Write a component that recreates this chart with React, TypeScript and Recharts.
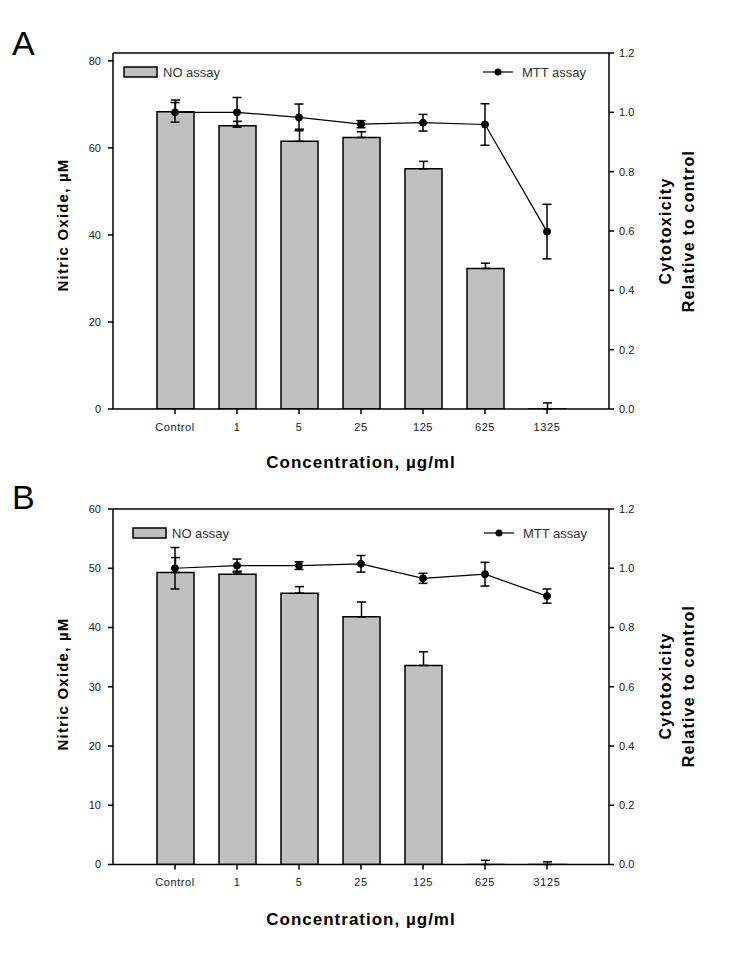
import React from 'react';
import { ComposedChart, Bar, Line, XAxis, YAxis, ErrorBar, ReferenceLine } from 'recharts';

const FONT = '"Liberation Sans", Arial, sans-serif';

const categoriesA = ['Control', '1', '5', '25', '125', '625', '1325'];
const noA = [68.3, 65.1, 61.5, 62.4, 55.2, 32.3, 0];
const noErrA = [2.7, 1.0, 2.8, 1.3, 1.7, 1.2, 1.4];
const mttA = [1.0, 1.0, 0.983, 0.96, 0.965, 0.959, 0.598];
const mttErrA = [0.033, 0.05, 0.045, 0.012, 0.028, 0.07, 0.092];

const categoriesB = ['Control', '1', '5', '25', '125', '625', '3125'];
const noB = [49.3, 49.0, 45.8, 41.8, 33.6, 0, 0];
const noErrB = [2.5, 0.5, 1.1, 2.5, 2.3, 0.7, 0.45];
const mttB = [1.0, 1.009, 1.009, 1.015, 0.966, 0.98, 0.906];
const mttErrB = [0.07, 0.022, 0.013, 0.028, 0.017, 0.04, 0.024];

const leftTicksA = [0, 20, 40, 60, 80];
const leftTicksB = [0, 10, 20, 30, 40, 50, 60];
const rightTicks = [0, 0.2, 0.4, 0.6, 0.8, 1.0, 1.2];
const xTicks = [1, 2, 3, 4, 5, 6, 7];

// a zero-height bar is not drawn by Recharts and drops its error bar,
// so zero values are kept as a negligible positive number (visually 0)
const ZERO = 1e-4;

function buildRows(no: number[], noErr: number[], mtt: number[], mttErr: number[]) {
  return no.map((v, i) => ({
    x: i + 1,
    no: v === 0 ? ZERO : v,
    noErr: [0, noErr[i]],
    mtt: mtt[i],
    mttErr: mttErr[i],
  }));
}

const dataA = buildRows(noA, noErrA, mttA, mttErrA);
const dataB = buildRows(noB, noErrB, mttB, mttErrB);

const tickStyle = { fontSize: 11, fill: '#222', fontFamily: FONT };

type PanelProps = {
  data: any[];
  cats: string[];
  leftMax: number;
  leftTicks: number[];
  height: number;
  bottom: number;
};

function Panel({ data, cats, leftMax, leftTicks, height, bottom }: PanelProps) {
  return (
    <ComposedChart
      width={736}
      height={height}
      data={data}
      margin={{ top: 53, left: 63, right: 77, bottom }}
    >
      <XAxis
        xAxisId="b"
        dataKey="x"
        type="number"
        domain={[0, 8]}
        ticks={xTicks}
        interval={0}
        allowDataOverflow
        tickFormatter={(v: number) => cats[v - 1] ?? ''}
        height={30}
        tickSize={5}
        tickMargin={9}
        stroke="#000"
        strokeWidth={1.5}
        tick={{ ...tickStyle, letterSpacing: 0.6 }}
      />
      <YAxis
        yAxisId="l"
        domain={[0, leftMax]}
        ticks={leftTicks}
        allowDataOverflow
        width={50}
        tickSize={5}
        tickMargin={7}
        stroke="#000"
        strokeWidth={1.5}
        tick={tickStyle}
      />
      <YAxis
        yAxisId="r"
        orientation="right"
        domain={[0, 1.2]}
        ticks={rightTicks}
        allowDataOverflow
        tickFormatter={(v: number) => v.toFixed(1)}
        width={50}
        tickSize={5}
        tickMargin={5}
        stroke="#000"
        strokeWidth={1.5}
        tick={tickStyle}
      />
      <ReferenceLine xAxisId="b" yAxisId="l" y={leftMax} stroke="#000" strokeWidth={1.5} />
      <Bar
        xAxisId="b"
        yAxisId="l"
        dataKey="no"
        barSize={37}
        fill="#c0c0c0"
        stroke="#000"
        strokeWidth={1.5}
        isAnimationActive={false}
      >
        <ErrorBar dataKey="noErr" direction="y" width={4.5} stroke="#000" strokeWidth={1.5} />
      </Bar>
      <Line
        xAxisId="b"
        yAxisId="r"
        dataKey="mtt"
        stroke="#000"
        strokeWidth={1.2}
        dot={{ r: 3.5, fill: '#000', stroke: '#000', strokeWidth: 1 }}
        isAnimationActive={false}
      >
        <ErrorBar dataKey="mttErr" direction="y" width={4.5} stroke="#000" strokeWidth={1.5} />
      </Line>
    </ComposedChart>
  );
}

function Legends({ y, noX, mttX }: { y: number; noX: number; mttX: number }) {
  return (
    <g fontFamily={FONT} fontSize={13} fill="#333">
      <rect x={noX} y={y - 5} width={33} height={10} fill="#c0c0c0" stroke="#000" strokeWidth={1.5} />
      <text x={noX + 39} y={y} dominantBaseline="central">NO assay</text>
      <line x1={mttX} x2={mttX + 30} y1={y} y2={y} stroke="#000" strokeWidth={1.2} />
      <circle cx={mttX + 15} cy={y} r={3.5} fill="#000" />
      <text x={mttX + 39} y={y} dominantBaseline="central">MTT assay</text>
    </g>
  );
}

function Titles({ leftY, rightY, xTitleY, letter, letterY }: { leftY: number; rightY: number; xTitleY: number; letter: string; letterY: number }) {
  return (
    <g fontFamily={FONT} fill="#000">
      <text x={12} y={letterY} fontSize={34}>{letter}</text>
      <text
        x={62}
        y={leftY}
        fontSize={15}
        fontWeight="bold"
        letterSpacing={1.2}
        textAnchor="middle"
        dominantBaseline="central"
        transform={`rotate(-90 62 ${leftY})`}
      >
        Nitric Oxide, µM
      </text>
      <text
        x={665}
        y={rightY}
        fontSize={16}
        fontWeight="bold"
        letterSpacing={1.3}
        textAnchor="middle"
        dominantBaseline="central"
        transform={`rotate(-90 665 ${rightY})`}
      >
        Cytotoxicity
      </text>
      <text
        x={688}
        y={rightY}
        fontSize={16}
        fontWeight="bold"
        letterSpacing={1.2}
        textAnchor="middle"
        dominantBaseline="central"
        transform={`rotate(-90 688 ${rightY})`}
      >
        Relative to control
      </text>
      <text x={361} y={xTitleY} fontSize={17} fontWeight="bold" letterSpacing={1} textAnchor="middle">
        Concentration, µg/ml
      </text>
    </g>
  );
}

export default function App() {
  return (
    <div style={{ position: 'absolute', left: 0, top: 0, width: 736, height: 958, background: '#fff', overflow: 'hidden' }}>
      <div style={{ position: 'absolute', left: 0, top: 0 }}>
        <Panel data={dataA} cats={categoriesA} leftMax={81.8} leftTicks={leftTicksA} height={470} bottom={31} />
      </div>
      <div style={{ position: 'absolute', left: 0, top: 456 }}>
        <Panel data={dataB} cats={categoriesB} leftMax={60} leftTicks={leftTicksB} height={502} bottom={63.5} />
      </div>
      <svg width={736} height={958} style={{ position: 'absolute', left: 0, top: 0, pointerEvents: 'none' }}>
        <Titles leftY={225} rightY={231} xTitleY={468} letter="A" letterY={55} />
        <Titles leftY={684} rightY={686} xTitleY={925} letter="B" letterY={509} />
        <Legends y={72} noX={124} mttX={483} />
        <Legends y={533} noX={133} mttX={484} />
      </svg>
    </div>
  );
}
